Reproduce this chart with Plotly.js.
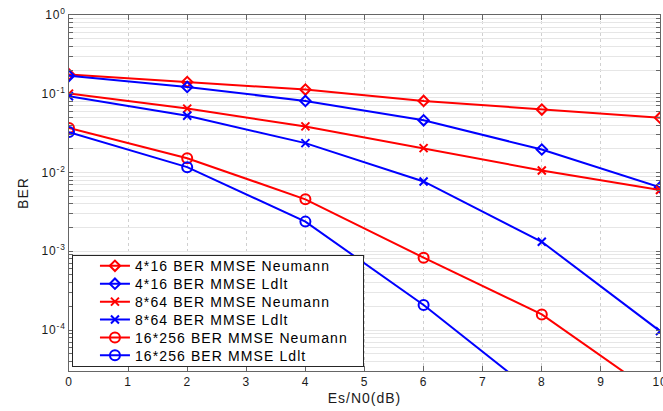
<!DOCTYPE html>
<html>
<head>
<meta charset="utf-8">
<script src="https://cdn.plot.ly/plotly-3.0.1.min.js"></script>
<style>
html,body{margin:0;padding:0;background:#fff;}
#chart{width:663px;height:411px;}
#chart .legendtext{letter-spacing:1.1px;}
#chart .xtick text,#chart .ytick text{letter-spacing:0.8px;}
#chart .xtitle,#chart .ytitle{letter-spacing:1px;}
</style>
</head>
<body>
<div id="chart"></div>
<script>
var snr = [0, 2, 4, 6, 8, 10];
var ber_4x16_neumann = [0.176, 0.141, 0.113, 0.081, 0.063, 0.0497];
var ber_4x16_ldlt = [0.169, 0.122, 0.081, 0.046, 0.0196, 0.0065];
var ber_8x64_neumann = [0.1005, 0.0648, 0.0385, 0.0204, 0.0106, 0.006];
var ber_8x64_ldlt = [0.093, 0.0527, 0.0236, 0.0077, 0.00132, 0.000097];
var ber_16x256_neumann = [0.0367, 0.0152, 0.00457, 0.00083, 0.000158, 0.000014];
var ber_16x256_ldlt = [0.0326, 0.0117, 0.00238, 0.000208, 0.0000135, 0.0000006];
var seriesNames = ["4*16 BER MMSE Neumann", "4*16 BER MMSE Ldlt", "8*64 BER MMSE Neumann", "8*64 BER MMSE Ldlt", "16*256 BER MMSE Neumann", "16*256 BER MMSE Ldlt"];
var xTickVals = [0, 1, 2, 3, 4, 5, 6, 7, 8, 9, 10];
var yDecades = [1, 0.1, 0.01, 0.001, 0.0001, 0.00001];
var yDecadeText = ["10<sup>0</sup>", "10<sup>-1</sup>", "10<sup>-2</sup>", "10<sup>-3</sup>", "10<sup>-4</sup>", ""];

// tick positions: labelled decades plus unlabelled minor ticks (2..9 x decade)
var yTickVals = [], yTickText = [];
yDecades.forEach(function (d, k) {
  yTickVals.push(d); yTickText.push(yDecadeText[k]);
  for (var m = 2; m <= 9; m++) { yTickVals.push(d * m); yTickText.push(""); }
});

var seriesY = [ber_4x16_neumann, ber_4x16_ldlt, ber_8x64_neumann, ber_8x64_ldlt, ber_16x256_neumann, ber_16x256_ldlt];
var colors = ["#ff0000", "#0000ff", "#ff0000", "#0000ff", "#ff0000", "#0000ff"];
var symbols = ["diamond-open", "diamond-open", "x-thin-open", "x-thin-open", "circle-open", "circle-open"];
var sizes = [8, 8, 8, 8, 10, 10];

var traces = seriesY.map(function (y, i) {
  return {
    x: snr, y: y, name: seriesNames[i], type: "scatter", mode: "lines+markers",
    line: {color: colors[i], width: 2},
    marker: {symbol: symbols[i], size: sizes[i], color: colors[i], line: {color: colors[i], width: 2}},
    cliponaxis: true
  };
});

var fam = "Liberation Sans, Arial, sans-serif";
var tickFont = {family: fam, size: 12, color: "#1a1a1a"};
var titleFont = {family: fam, size: 14, color: "#1a1a1a"};
var layout = {
  width: 663, height: 411,
  margin: {l: 69, r: 3, t: 15, b: 40},
  paper_bgcolor: "#fff", plot_bgcolor: "#fff",
  font: tickFont,
  showlegend: true,
  legend: {
    x: 0.005, y: 0.012, xanchor: "left", yanchor: "bottom",
    bgcolor: "#fff", bordercolor: "#262626", borderwidth: 1,
    font: {family: fam, size: 14, color: "#000"},
    tracegroupgap: 0
  },
  xaxis: {
    range: [0, 10], tickvals: xTickVals,
    showline: true, linecolor: "#666", linewidth: 1, mirror: "ticks",
    ticks: "inside", ticklen: 5, tickcolor: "#666",
    showgrid: true, gridcolor: "#d0d0d0", griddash: "dot", gridwidth: 1,
    zeroline: false, ticklabeloverflow: "allow",
    title: {text: "Es/N0(dB)", font: titleFont, standoff: 4},
    tickfont: tickFont
  },
  yaxis: {
    type: "log", range: [-4.52, 0],
    tickvals: yTickVals, ticktext: yTickText,
    showline: true, linecolor: "#666", linewidth: 1, mirror: "ticks",
    ticks: "inside", ticklen: 4, tickcolor: "#666",
    showgrid: true, gridcolor: "#e6e6e6", gridwidth: 1,
    zeroline: false,
    title: {text: "BER", font: titleFont, standoff: 12},
    tickfont: tickFont
  }
};

// legend box tuning (MATLAB-like compact rows and wider text area)
var LEG_ROW = 17.9, LEG_SHIFT = 22, LEG_PAD_RIGHT = 15, LEG_TOP_TRIM = 12, LEG_ITEM_UP = 6;

var gd = document.getElementById("chart");
Plotly.newPlot(gd, traces, layout, {displayModeBar: false, staticPlot: true}).then(function () {
  try {
    var leg = gd.querySelector(".legend");
    if (!leg) return;
    var bg = leg.querySelector("rect.bg");
    var items = leg.querySelectorAll(".traces");
    var maxRight = 0, y0 = null;
    items.forEach(function (it, i) {
      var m = /translate\(\s*([-\d.]+)[ ,]+([-\d.]+)/.exec(it.getAttribute("transform") || "");
      var tx = m ? parseFloat(m[1]) : 0, ty = m ? parseFloat(m[2]) : 0;
      if (y0 === null) y0 = ty;
      it.setAttribute("transform", "translate(" + (tx + LEG_SHIFT) + "," + (y0 - LEG_ITEM_UP + i * LEG_ROW) + ")");
      var t = it.querySelector(".legendtext");
      var w = t.getComputedTextLength();
      var x = parseFloat(t.getAttribute("x") || 40);
      maxRight = Math.max(maxRight, tx + LEG_SHIFT + x + w);
    });
    var oldH = parseFloat(bg.getAttribute("height"));
    var oldRow = Math.max(14 * 1.3, 16) + 3;
    var newH = oldH - (items.length - 1) * (oldRow - LEG_ROW) - LEG_TOP_TRIM;
    var newW = maxRight + LEG_PAD_RIGHT;
    bg.setAttribute("width", newW);
    bg.setAttribute("height", newH);
    var lm = /translate\(\s*([-\d.]+)[ ,]+([-\d.]+)/.exec(leg.getAttribute("transform") || "");
    if (lm) leg.setAttribute("transform", "translate(" + lm[1] + "," + (parseFloat(lm[2]) + (oldH - newH)) + ")");
    var sb = leg.querySelector(".scrollbox");
    var cp = sb && sb.getAttribute("clip-path");
    if (cp) {
      var id = cp.replace(/^url\(["']?#/, "").replace(/["']?\)$/, "");
      var cr = document.getElementById(id);
      var rect = cr && cr.querySelector("rect");
      if (rect) { rect.setAttribute("width", newW); rect.setAttribute("height", newH); }
    }
  } catch (e) {}
});
</script>
</body>
</html>
